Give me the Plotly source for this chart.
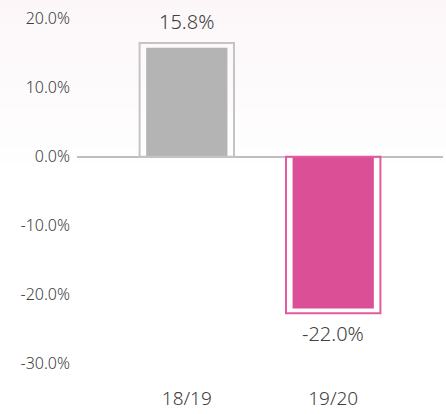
import plotly.graph_objects as go

categories = ["18/19", "19/20"]
values = [15.8, -22.0]
fill_colors = ["#b4b4b4", "#db4f96"]
outline_colors = ["#c4c4c4", "#e35aa1"]
y_ticks = [20, 10, 0, -10, -20, -30]
y_tick_labels = ["20.0%", "10.0%", "0.0%", "-10.0%", "-20.0%", "-30.0%"]

pad = 0.7  # outline gap in %
outline_vals = [v + (pad if v >= 0 else -pad) for v in values]

TEXT = "#404040"
FONT = "Noto Sans"

fig = go.Figure()
fig.add_trace(go.Bar(
    x=categories, y=values, width=0.555,
    marker=dict(color=fill_colors, line=dict(width=0)),
    hoverinfo="skip", showlegend=False,
))
fig.add_trace(go.Bar(
    x=categories, y=outline_vals, width=0.645,
    marker=dict(color="rgba(0,0,0,0)", line=dict(color=outline_colors, width=2)),
    hoverinfo="skip", showlegend=False,
))

for c, v in zip(categories, values):
    fig.add_annotation(
        x=c, y=v, text=f"{v:.1f}%", showarrow=False,
        yshift=26 if v >= 0 else -25,
        font=dict(family=FONT, size=20, color=TEXT, weight=300),
    )

# subtle gradient background
n = 24
top = (252, 246, 248)
for i in range(n):
    t = i / (n - 1)
    col = tuple(int(round(top[k] + (255 - top[k]) * t)) for k in range(3))
    y1 = 1.05 - i * (0.5 / n)
    y0 = y1 - 0.5 / n
    fig.add_shape(type="rect", xref="paper", yref="paper", x0=-0.3, x1=1.1,
                  y0=y0, y1=y1 + 0.002, fillcolor=f"rgb{col}", line=dict(width=0),
                  layer="below")

fig.update_layout(
    width=446, height=414,
    margin=dict(l=77, r=3, t=12, b=23),
    paper_bgcolor="white", plot_bgcolor="rgba(0,0,0,0)",
    barmode="overlay",
    xaxis=dict(range=[-0.75, 1.75], showgrid=False, zeroline=False, showline=False,
               ticks="", tickfont=dict(family=FONT, size=19, color=TEXT, weight=300)),
    yaxis=dict(range=[-33.1, 21], tickvals=y_ticks, ticktext=y_tick_labels,
               showgrid=False, zeroline=True, zerolinecolor="#bfbfbf", zerolinewidth=1.5,
               showline=False, ticks="", ticklabelstandoff=6, ticklabeloverflow="allow",
               tickfont=dict(family=FONT, size=16, color=TEXT, weight=300)),
)

fig.write_html("out.html", config={"displayModeBar": False},
               post_script="document.body.style.margin='0';")
